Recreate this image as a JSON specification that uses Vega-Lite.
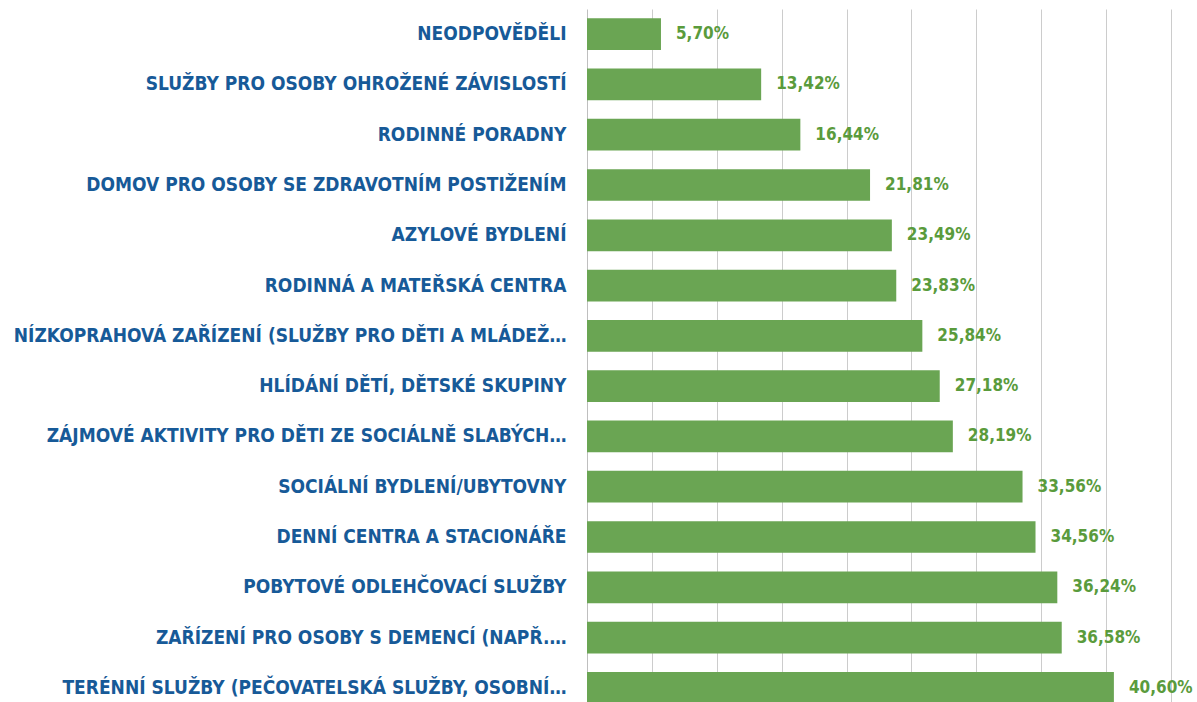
{
  "$schema": "https://vega.github.io/schema/vega-lite/v6.json",
  "width": 584,
  "height": 704,
  "autosize": {"type": "none"},
  "padding": {"left": 587, "top": 9, "right": 26, "bottom": 0},
  "background": "white",
  "config": {
    "locale": {"number": {"decimal": ",", "thousands": " ", "grouping": [3], "currency": ["", " Kč"]}},
    "view": {"stroke": null}
  },
  "data": {
    "values": [
      {"sluzba": "NEODPOVĚDĚLI", "podil": 0.0570},
      {"sluzba": "SLUŽBY PRO OSOBY OHROŽENÉ ZÁVISLOSTÍ", "podil": 0.1342},
      {"sluzba": "RODINNÉ PORADNY", "podil": 0.1644},
      {"sluzba": "DOMOV PRO OSOBY SE ZDRAVOTNÍM POSTIŽENÍM", "podil": 0.2181},
      {"sluzba": "AZYLOVÉ BYDLENÍ", "podil": 0.2349},
      {"sluzba": "RODINNÁ A MATEŘSKÁ CENTRA", "podil": 0.2383},
      {"sluzba": "NÍZKOPRAHOVÁ ZAŘÍZENÍ (SLUŽBY PRO DĚTI A MLÁDEŽ…", "podil": 0.2584},
      {"sluzba": "HLÍDÁNÍ DĚTÍ, DĚTSKÉ SKUPINY", "podil": 0.2718},
      {"sluzba": "ZÁJMOVÉ AKTIVITY PRO DĚTI ZE SOCIÁLNĚ SLABÝCH…", "podil": 0.2819},
      {"sluzba": "SOCIÁLNÍ BYDLENÍ/UBYTOVNY", "podil": 0.3356},
      {"sluzba": "DENNÍ CENTRA A STACIONÁŘE", "podil": 0.3456},
      {"sluzba": "POBYTOVÉ ODLEHČOVACÍ SLUŽBY", "podil": 0.3624},
      {"sluzba": "ZAŘÍZENÍ PRO OSOBY S DEMENCÍ (NAPŘ.…", "podil": 0.3658},
      {"sluzba": "TERÉNNÍ SLUŽBY (PEČOVATELSKÁ SLUŽBY, OSOBNÍ…", "podil": 0.4060}
    ]
  },
  "encoding": {
    "y": {
      "field": "sluzba",
      "type": "nominal",
      "sort": {"field": "podil", "order": "ascending"},
      "scale": {"paddingInner": 0.37, "paddingOuter": 0.185},
      "axis": {
        "title": null,
        "ticks": false,
        "domain": true,
        "domainColor": "#bfbfbf",
        "domainWidth": 1,
        "labelPadding": 21,
        "labelFont": "DejaVu Sans Condensed",
        "labelFontWeight": "bold",
        "labelFontSize": 19,
        "labelColor": "#175a98",
        "labelLimit": 600
      }
    },
    "x": {
      "field": "podil",
      "type": "quantitative",
      "scale": {"domain": [0, 0.45], "nice": false},
      "axis": {
        "title": null,
        "labels": false,
        "ticks": false,
        "domain": false,
        "grid": true,
        "gridColor": "#cccccc",
        "gridWidth": 1,
        "values": [0.05, 0.1, 0.15, 0.2, 0.25, 0.3, 0.35, 0.4, 0.45]
      }
    }
  },
  "layer": [
    {"mark": {"type": "bar", "color": "#6aa553"}},
    {
      "mark": {
        "type": "text",
        "align": "left",
        "baseline": "middle",
        "dx": 15,
        "font": "DejaVu Sans Condensed",
        "fontWeight": "bold",
        "fontSize": 17,
        "color": "#5a9b3c"
      },
      "encoding": {"text": {"field": "podil", "type": "quantitative", "format": ".2%"}}
    }
  ]
}
